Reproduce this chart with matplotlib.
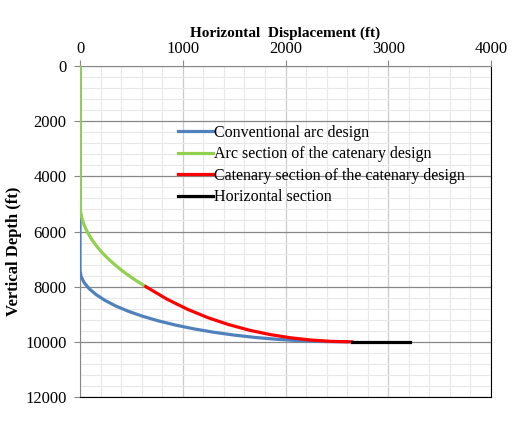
import matplotlib
matplotlib.use("Agg")
import matplotlib.pyplot as plt
from matplotlib.ticker import MultipleLocator

plt.rcParams["font.family"] = ["Liberation Serif", "DejaVu Serif"]

# conventional arc design (vertical, then arc)
conv_x = [0, 0, 10, 40, 89, 157, 244, 348, 470, 608, 762, 929, 1109, 1300, 1501, 1711, 1927, 2149, 2373, 2600]
conv_y = [0, 7400, 7627, 7851, 8073, 8289, 8499, 8700, 8891, 9071, 9239, 9392, 9530, 9652, 9756, 9843, 9911, 9961, 9990, 10000]

# arc section of the catenary design
arc_x = [0, 0, 4, 18, 40, 72, 112, 161, 218, 285, 360, 443, 535, 641]
arc_y = [0, 5000, 5257, 5513, 5768, 6023, 6276, 6528, 6778, 7026, 7271, 7514, 7753, 8000]

# catenary section
cat_x = [641, 846, 1046, 1246, 1446, 1646, 1846, 2046, 2246, 2446, 2646]
cat_y = [8000, 8452, 8820, 9125, 9374, 9576, 9734, 9852, 9935, 9984, 10000]

# horizontal section
hor_x = [2646, 3214]
hor_y = [10000, 10000]

fig = plt.figure(figsize=(5.25, 4.24), dpi=100)
ax = fig.add_axes([80/525, 1-397/424, 411/525, 331/424])

lw = 2.3
ax.plot(conv_x, conv_y, color="#4F81BD", lw=lw, label="Conventional arc design", zorder=3)
ax.plot(arc_x, arc_y, color="#92D050", lw=lw, label="Arc section of the catenary design", zorder=3)
ax.plot(cat_x, cat_y, color="#FF0000", lw=lw, label="Catenary section of the catenary design", zorder=4)
ax.plot(hor_x, hor_y, color="#000000", lw=lw, label="Horizontal section", zorder=4)

ax.set_xlim(0, 4000)
ax.set_ylim(12000, 0)
ax.xaxis.tick_top()
ax.xaxis.set_label_position("top")
ax.xaxis.set_major_locator(MultipleLocator(1000))
ax.xaxis.set_minor_locator(MultipleLocator(200))
ax.yaxis.set_major_locator(MultipleLocator(2000))
ax.yaxis.set_minor_locator(MultipleLocator(400))

ax.grid(which="minor", color="#e8e8e8", lw=0.8)
ax.grid(which="major", axis="x", color="#cccccc", lw=0.9)
ax.grid(which="major", axis="y", color="#888888", lw=0.9)
ax.set_axisbelow(True)

ax.tick_params(which="major", direction="out", length=4.3, color="#888888", labelsize=12)
ax.tick_params(axis="y", pad=5.5)
ax.tick_params(axis="x", pad=2)
ax.tick_params(which="minor", length=0)

ax.spines["top"].set_color("#888888")
ax.spines["left"].set_color("#888888")
ax.spines["right"].set_color("black")
ax.spines["bottom"].set_color("black")

ax.set_xlabel("Horizontal  Displacement (ft)", fontsize=11, fontweight="bold", labelpad=3)
ax.set_ylabel("Vertical Depth (ft)", fontsize=12, fontweight="bold")
ax.yaxis.set_label_coords(-0.142, 0.44)

fig.legend(loc="upper left", bbox_to_anchor=(178/525, 1-125/424), frameon=False,
           fontsize=11.5, borderpad=0, borderaxespad=0, handlelength=2.2,
           handletextpad=0.05, labelspacing=0.34)

fig.savefig("out.png", dpi=100)
